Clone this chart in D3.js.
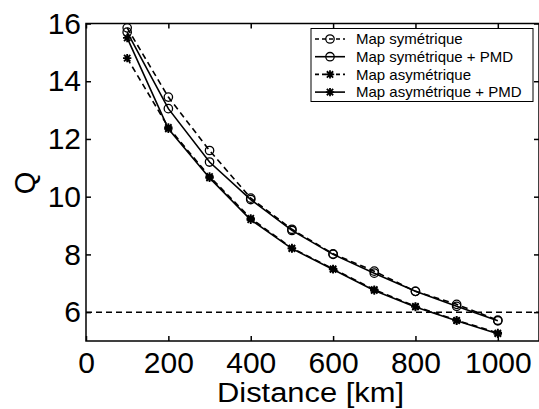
<!DOCTYPE html>
<html><head><meta charset="utf-8">
<script src="https://cdn.jsdelivr.net/npm/d3@7"></script>
<style>html,body{margin:0;padding:0;background:#fff;} svg{display:block;}</style>
</head><body>
<svg id="c" width="539" height="409"></svg>
<script>
const distances = [100, 200, 300, 400, 500, 600, 700, 800, 900, 1000];
const qSym      = [15.85, 13.45, 11.6, 9.95, 8.87, 8.02, 7.42, 6.72, 6.27, 5.72];
const qSymPMD   = [15.7, 13.05, 11.2, 9.9, 8.83, 8.0, 7.35, 6.72, 6.2, 5.7];
const qAsym     = [14.8, 12.4, 10.7, 9.25, 8.22, 7.5, 6.78, 6.2, 5.72, 5.28];
const qAsymPMD  = [15.5, 12.35, 10.65, 9.2, 8.2, 7.48, 6.75, 6.18, 5.7, 5.25];
const seriesNames = ["Map symétrique", "Map symétrique + PMD", "Map asymétrique", "Map asymétrique + PMD"];
const xTicks = [0, 200, 400, 600, 800, 1000];
const yTicks = [6, 8, 10, 12, 14, 16];
const threshold = 6;

const series = [
  {name: seriesNames[0], vals: qSym, dash: "6,4", marker: "o"},
  {name: seriesNames[1], vals: qSymPMD, dash: null, marker: "o"},
  {name: seriesNames[2], vals: qAsym, dash: "6,4", marker: "*"},
  {name: seriesNames[3], vals: qAsymPMD, dash: null, marker: "*"}
];

const svg = d3.select("#c");
const L = 86, T = 23.5, R = 539, B = 341;
const x = d3.scaleLinear().domain([0, 1100]).range([L, R]);
const y = d3.scaleLinear().domain([5, 16]).range([B, T]);
const font = "Liberation Sans, Arial, sans-serif";

// threshold line
svg.append("line").attr("x1", L).attr("x2", R).attr("y1", y(threshold)).attr("y2", y(threshold))
  .attr("stroke", "#000").attr("stroke-width", 1.5).attr("stroke-dasharray", "6,4");

// series
const line = d3.line().x((d, i) => x(distances[i])).y(d => y(d));
function drawMarker(g, type, cx, cy) {
  if (type === "o") {
    g.append("circle").attr("cx", cx).attr("cy", cy).attr("r", 4.2)
      .attr("fill", "none").attr("stroke", "#000").attr("stroke-width", 1.3);
  } else {
    const s = 4.2, d = s * 0.75;
    const p = `M${cx - s},${cy}L${cx + s},${cy}M${cx},${cy - s}L${cx},${cy + s}M${cx - d},${cy - d}L${cx + d},${cy + d}M${cx - d},${cy + d}L${cx + d},${cy - d}`;
    g.append("path").attr("d", p).attr("stroke", "#000").attr("stroke-width", 1.8).attr("fill", "none");
  }
}
series.forEach(s => {
  svg.append("path").attr("d", line(s.vals)).attr("fill", "none").attr("stroke", "#000")
    .attr("stroke-width", 1.6).attr("stroke-dasharray", s.dash);
  const g = svg.append("g");
  s.vals.forEach((v, i) => drawMarker(g, s.marker, x(distances[i]), y(v)));
});

// frame
svg.append("rect").attr("x", L).attr("y", T).attr("width", R - L).attr("height", B - T)
  .attr("fill", "none").attr("stroke", "#000").attr("stroke-width", 1.5);

// axes with inward ticks
const xAxisB = d3.axisBottom(x).tickValues(xTicks).tickSize(-5).tickPadding(11).tickFormat(d3.format("d"));
const gx = svg.append("g").attr("transform", `translate(0,${B})`).call(xAxisB);
const xAxisT = d3.axisTop(x).tickValues(xTicks).tickSize(-5).tickFormat("");
const gxt = svg.append("g").attr("transform", `translate(0,${T})`).call(xAxisT);
const yAxisL = d3.axisLeft(y).tickValues(yTicks).tickSize(-5).tickPadding(5).tickFormat(d3.format("d"));
const gy = svg.append("g").attr("transform", `translate(${L},0)`).call(yAxisL);
const yAxisR = d3.axisRight(y).tickValues(yTicks).tickSize(-5).tickFormat("");
const gyr = svg.append("g").attr("transform", `translate(${R},0)`).call(yAxisR);
[gx, gxt, gy, gyr].forEach(g => {
  g.select(".domain").remove();
  g.selectAll(".tick line").attr("stroke", "#000").attr("stroke-width", 1.5);
  g.selectAll("text").attr("font-family", font).attr("font-size", 30).attr("fill", "#000");
});

// labels
svg.append("text").attr("x", 310.5).attr("y", 401.5).attr("text-anchor", "middle")
  .attr("font-family", font).attr("font-size", 27)
  .attr("textLength", 187).attr("lengthAdjust", "spacingAndGlyphs").text("Distance [km]");
svg.append("text").attr("transform", "translate(35,183) rotate(-90)").attr("text-anchor", "middle")
  .attr("font-family", font).attr("font-size", 29).text("Q");

// legend
const lg = svg.append("g");
lg.append("rect").attr("x", 311).attr("y", 28.5).attr("width", 222).attr("height", 73)
  .attr("fill", "#fff").attr("stroke", "#000").attr("stroke-width", 1);
series.forEach((s, i) => {
  const cy = 39 + i * 17.7;
  lg.append("line").attr("x1", 315).attr("x2", 345).attr("y1", cy).attr("y2", cy)
    .attr("stroke", "#000").attr("stroke-width", 1.6).attr("stroke-dasharray", s.dash ? "4,3" : null);
  drawMarker(lg, s.marker, 330, cy);
  lg.append("text").attr("x", 356).attr("y", cy + 5.3).attr("font-family", font)
    .attr("font-size", 15).text(s.name);
});
</script>
</body></html>
